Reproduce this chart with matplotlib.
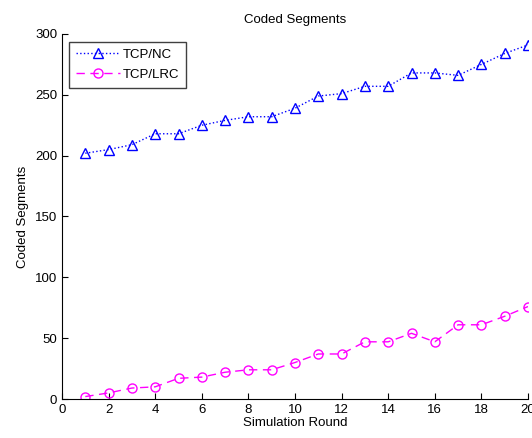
import matplotlib
matplotlib.use('Agg')
import matplotlib.pyplot as plt
import numpy as np

plt.rcParams['font.family'] = ['Liberation Sans', 'DejaVu Sans']

# data
rounds = np.arange(1, 21)
tcp_nc = [202, 205, 209, 218, 218, 225, 229, 232, 232, 239,
          249, 251, 257, 257, 268, 268, 266, 275, 284, 291]
tcp_lrc = [2, 5, 9, 10, 17, 18, 22, 24, 24, 30,
           37, 37, 47, 47, 54, 47, 61, 61, 68, 76]

fig = plt.figure(figsize=(5.32, 4.38), dpi=100)
ax = fig.add_axes([62 / 532, 1 - 399 / 438, 466 / 532, 365 / 438])

ax.plot(rounds, tcp_nc, ':', color='blue', marker='^', markersize=6.5,
        markerfacecolor='none', markeredgecolor='blue', linewidth=1, label='TCP/NC')
ax.plot(rounds, tcp_lrc, '--', color='magenta', marker='o', markersize=6.5,
        markerfacecolor='none', markeredgecolor='magenta', linewidth=1,
        dashes=(6, 4), label='TCP/LRC')

ax.set_xlim(0, 20)
ax.set_ylim(0, 300)
ax.set_xticks(np.arange(0, 21, 2))
ax.set_yticks(np.arange(0, 301, 50))
ax.tick_params(direction='in', length=4, labelsize=9.5, colors='black')
ax.spines['top'].set_visible(False)
ax.spines['right'].set_visible(False)

ax.set_title('Coded Segments', fontsize=9.5, pad=8)
ax.set_xlabel('Simulation Round', fontsize=9.5, labelpad=1)
ax.set_ylabel('Coded Segments', fontsize=9.5, labelpad=4)

leg = ax.legend(loc='upper left', bbox_to_anchor=(0.015, 0.978), fontsize=9.5,
                fancybox=False, framealpha=1, edgecolor='#404040', borderaxespad=0,
                handlelength=3.4, borderpad=0.5, labelspacing=0.6, handletextpad=0.2)
leg.get_frame().set_linewidth(1)

fig.savefig('out.png', dpi=100)
